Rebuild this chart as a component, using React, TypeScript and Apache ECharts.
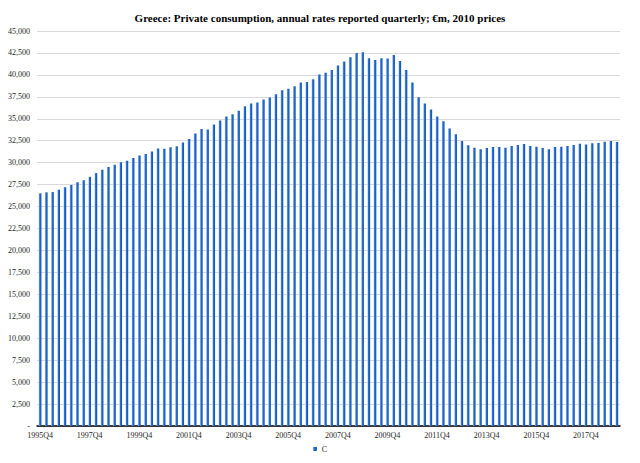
import React, { useEffect, useRef } from "react";
import * as echarts from "echarts";

const startYear = 1995;
const startQuarter = 4;
const categoryCount = 94;

const categories: string[] = [];
for (let i = 0; i < categoryCount; i++) {
  const q = startQuarter - 1 + i;
  const year = startYear + Math.floor(q / 4);
  const quarter = (q % 4) + 1;
  categories.push(`${year}Q${quarter}`);
}

const consumption = [
  26500, 26620, 26650, 26920, 27190, 27460, 27770, 28000, 28390, 28810,
  29190, 29500, 29770, 30040, 30230, 30540, 30810, 31000, 31270, 31610,
  31580, 31770, 31880, 32310, 32690, 33330, 33830, 33790, 34360, 34810,
  35270, 35530, 35910, 36440, 36740, 36860, 37200, 37420, 37800, 38260,
  38410, 38710, 39130, 39200, 39490, 40040, 40230, 40570, 41060, 41520,
  42010, 42500, 42580, 41890, 41700, 41890, 41860, 42270, 41590, 40570,
  39130, 37460, 36740, 36060, 35270, 34730, 33900, 33240, 32460, 31970,
  31700, 31520, 31670, 31780, 31780, 31700, 31890, 32010, 32120, 31890,
  31820, 31670, 31520, 31780, 31820, 31890, 32010, 32160, 32080, 32200,
  32240, 32390, 32460, 32350,
];

const seriesName = "C";
const titleText =
  "Greece: Private consumption, annual rates reported quarterly; €m, 2010 prices";

export default function App() {
  const ref = useRef<HTMLDivElement>(null);

  useEffect(() => {
    if (!ref.current) return;
    const chart = echarts.init(ref.current, undefined, { renderer: "svg" });
    chart.setOption({
      animation: false,
      backgroundColor: "#ffffff",
      title: {
        text: titleText,
        left: "center",
        top: 7,
        textStyle: {
          fontFamily: "Liberation Serif",
          fontSize: 11,
          fontWeight: "bold",
          color: "#000000",
        },
      },
      legend: {
        data: [seriesName],
        bottom: 5,
        left: "center",
        icon: "rect",
        itemWidth: 4,
        itemHeight: 4,
        itemGap: 4,
        textStyle: {
          fontFamily: "Liberation Serif",
          fontSize: 8,
          color: "#262626",
        },
      },
      grid: {
        left: 37,
        right: 20,
        top: 31,
        bottom: 37,
        containLabel: false,
      },
      xAxis: {
        type: "category",
        data: categories,
        boundaryGap: true,
        axisLine: { lineStyle: { color: "#000000", width: 1.5 } },
        axisTick: { show: false },
        axisLabel: {
          interval: 7,
          fontFamily: "Liberation Serif",
          fontSize: 8,
          color: "#262626",
          margin: 5,
        },
      },
      yAxis: {
        type: "value",
        min: 0,
        max: 45000,
        interval: 2500,
        axisLine: { show: false },
        axisTick: { show: false },
        splitLine: { lineStyle: { color: "#d9d9d9", width: 1 } },
        axisLabel: {
          fontFamily: "Liberation Serif",
          fontSize: 8,
          color: "#262626",
          margin: 7,
          formatter: (v: number) =>
            v === 0 ? "-" : v.toLocaleString("en-US"),
        },
      },
      series: [
        {
          name: seriesName,
          type: "bar",
          data: consumption,
          barWidth: 2.6,
          itemStyle: {
            color: new echarts.graphic.LinearGradient(0, 0, 1, 0, [
              { offset: 0, color: "#a9c4ec" },
              { offset: 0.35, color: "#2f6fd0" },
              { offset: 1, color: "#0052b8" },
            ]),
          },
        },
      ],
    });
    return () => chart.dispose();
  }, []);

  return (
    <div
      ref={ref}
      style={{ position: "absolute", left: 0, top: 0, width: 640, height: 463 }}
    />
  );
}
